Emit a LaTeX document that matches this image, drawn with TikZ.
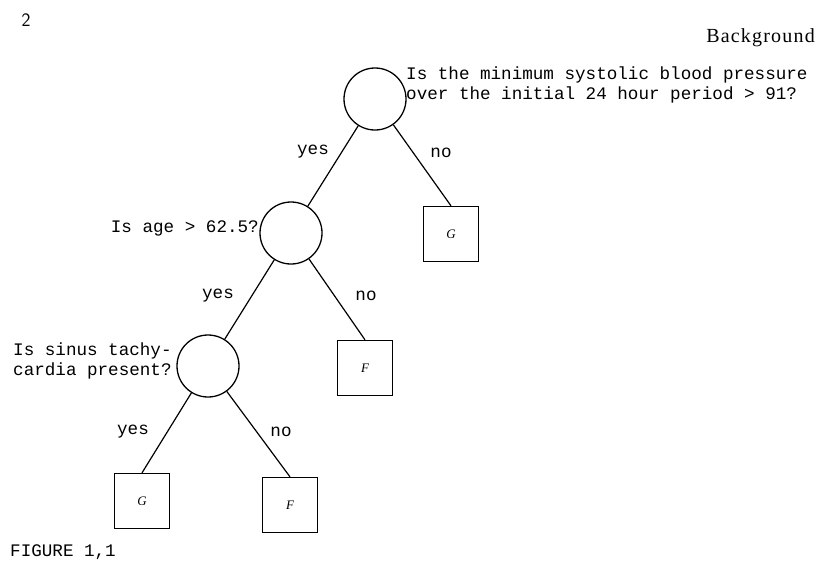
\documentclass[tikz,border=0pt]{standalone}
\usepackage{fontspec}
\setmainfont{Liberation Serif}
\newfontfamily\tw{Liberation Mono}
\newfontfamily\bgfont[LetterSpace=6]{Liberation Serif}
\begin{document}
\begin{tikzpicture}[x=1pt,y=-1pt,
  q/.style={font=\tw\fontsize{17.6}{20}\selectfont, inner sep=0pt, align=left},
  lab/.style={font=\tw\fontsize{17.6}{20}\selectfont, inner sep=0pt},
  dec/.style={draw, circle, line width=1.3pt, minimum size=62pt, inner sep=0pt},
  leaf/.style={draw, rectangle, line width=1.3pt, minimum size=55pt, inner sep=0pt, font=\itshape\fontsize{13}{14}\selectfont},
  edge/.style={line width=1.2pt}]
\useasboundingbox (0,0) rectangle (818,571);
\node[font=\sffamily\fontsize{19}{20}\selectfont] (pg) at (26,20) {2};
\node[font=\bgfont\fontsize{20}{22}\selectfont, anchor=east, inner sep=0pt] (bg) at (815,38) {Background};

\node[dec] (root) at (375,99) {};
\node[dec] (age) at (291,233) {};
\node[dec] (sin) at (208,366) {};

\node[leaf] (l1) at (451,234) {G};
\node[leaf] (l2) at (365,368) {F};
\node[leaf] (l3) at (142,501) {G};
\node[leaf] (l4) at (290,505) {F};

\node[q, anchor=west] (q1) at (406,85) {Is the minimum systolic blood pressure\\over the initial 24 hour period > 91?};
\node[q, anchor=east] (q2) at (259,228) {Is age > 62.5?};
\node[q, anchor=west] (q3) at (13,361) {Is sinus tachy-\\cardia present?};

\draw[edge] (root) -- (age);
\draw[edge] (root) -- (l1.north);
\draw[edge] (age) -- (sin);
\draw[edge] (age) -- (l2.north);
\draw[edge] (sin) -- (l3.north);
\draw[edge] (sin) -- (l4.north);

\node[lab] (y1) at (313,152) {yes};
\node[lab] (n1) at (441,153) {no};
\node[lab] (y2) at (218,296) {yes};
\node[lab] (n2) at (366,296) {no};
\node[lab] (y3) at (133,432) {yes};
\node[lab] (n3) at (281,432) {no};

\node[font=\tw\fontsize{17.6}{20}\selectfont, anchor=west, inner sep=0pt] (fig) at (10,552) {FIGURE 1,1};
\end{tikzpicture}
\end{document}
